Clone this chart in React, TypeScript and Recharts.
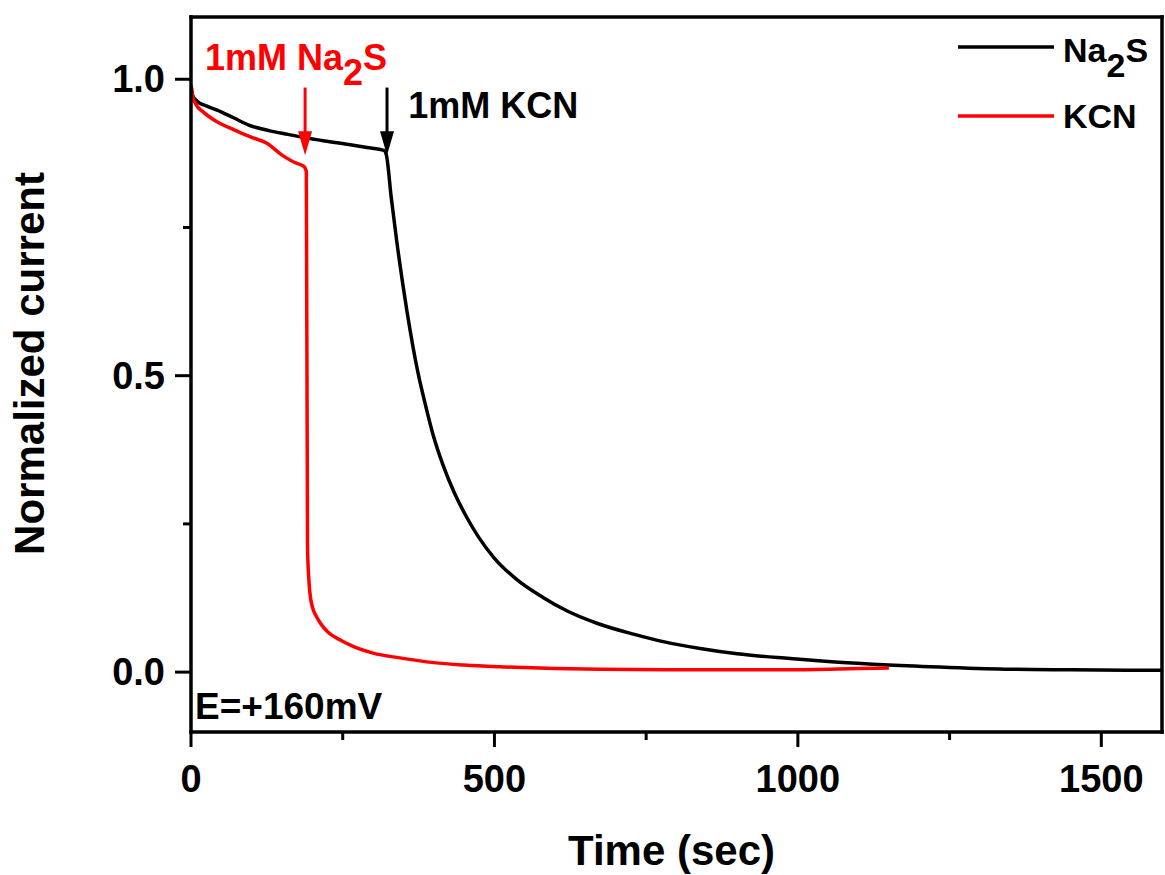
import React from "react"
import {
  LineChart,
  Line,
  XAxis,
  YAxis,
  Legend,
  ReferenceLine,
  ReferenceDot,
} from "recharts"

const FONT = '"Liberation Sans", Arial, Helvetica, sans-serif'

// Na2S trace (black)
const na2sTime = [
  0, 3, 10, 25, 43, 70, 97, 130, 160, 185, 220, 260, 290, 318, 322, 330, 339,
  356, 374, 386, 399, 415, 435, 455, 475, 500, 537, 580, 620, 670, 729, 780,
  839, 900, 987, 1050, 1150, 1250, 1350, 1450, 1600,
]
const na2sValue = [
  0.99, 0.972, 0.963, 0.955, 0.948, 0.935, 0.922, 0.913, 0.907, 0.902, 0.896,
  0.89, 0.885, 0.88, 0.872, 0.8, 0.727, 0.608, 0.505, 0.452, 0.4, 0.35, 0.3,
  0.26, 0.226, 0.192, 0.156, 0.126, 0.103, 0.082, 0.064, 0.051, 0.04, 0.031,
  0.023, 0.018, 0.012, 0.008, 0.005, 0.004, 0.003,
]

// KCN trace (red)
const kcnTime = [
  0, 2, 8, 20, 40, 70, 100, 125, 150, 170, 186, 190, 192, 194, 196, 200, 206,
  213, 225, 246, 270, 300, 344, 400, 450, 509, 600, 674, 800, 987, 1100, 1150,
]
const kcnValue = [
  0.99, 0.975, 0.958, 0.945, 0.93, 0.915, 0.902, 0.892, 0.872, 0.86, 0.853,
  0.845, 0.211, 0.16, 0.133, 0.11, 0.095, 0.083, 0.068, 0.054, 0.042, 0.032,
  0.024, 0.016, 0.012, 0.009, 0.006, 0.005, 0.004, 0.004, 0.006, 0.007,
]

const xTicks = [0, 250, 500, 750, 1000, 1250, 1500]
const yTicks = [0, 0.25, 0.5, 0.75, 1.0]
const X_DOMAIN = [0, 1600]
const Y_DOMAIN = [-0.101, 1.105]

const na2sData = na2sTime.map((t, i) => ({ t, v: na2sValue[i] }))
const kcnData = kcnTime.map((t, i) => ({ t, v: kcnValue[i] }))

function XTick({ x, y, payload }: any) {
  const major = payload.value % 500 === 0
  return (
    <g>
      <line x1={x} x2={x} y1={y} y2={y + (major ? 15 : 8)} stroke="#000" strokeWidth={3} />
      {major && (
        <text x={x} y={y + 60} textAnchor="middle" fontSize={38} fontWeight="bold" fontFamily={FONT} fill="#000">
          {payload.value}
        </text>
      )}
    </g>
  )
}

function YTick({ x, y, payload }: any) {
  const major = Math.round(payload.value * 4) % 2 === 0
  return (
    <g>
      <line x1={x - (major ? 16 : 8)} x2={x} y1={y} y2={y} stroke="#000" strokeWidth={3} />
      {major && (
        <text x={x - 26} y={y + 13} textAnchor="end" fontSize={38} fontWeight="bold" fontFamily={FONT} fill="#000">
          {payload.value.toFixed(1)}
        </text>
      )}
    </g>
  )
}

// plot frame side
const frameShape = (props: any) => (
  <line
    x1={props.x1}
    y1={props.y1}
    x2={props.x2}
    y2={props.y2}
    stroke="#000"
    strokeWidth={3.5}
    strokeLinecap="square"
  />
)

// arrow drawn from segment start down to tip
const arrowShape = (color: string) => (props: any) => {
  const { x1, y1, x2, y2 } = props
  return (
    <g>
      <line x1={x1} y1={y1} x2={x2} y2={y2 - 20} stroke={color} strokeWidth={3} />
      <polygon points={`${x2 - 7},${y2 - 24} ${x2 + 7},${y2 - 24} ${x2},${y2}`} fill={color} />
    </g>
  )
}

function LegendBox() {
  return (
    <svg width={215} height={120} style={{ overflow: "visible" }}>
      <line x1={8} x2={104} y1={27} y2={27} stroke="#000" strokeWidth={3.5} />
      <text x={113} y={42} fontSize={34} fontWeight="bold" fontFamily={FONT} fill="#000">
        Na<tspan dy={15}>2</tspan>
        <tspan dy={-15}>S</tspan>
      </text>
      <line x1={8} x2={104} y1={96} y2={96} stroke="#ff0000" strokeWidth={3.5} />
      <text x={113} y={108} fontSize={34} fontWeight="bold" fontFamily={FONT} fill="#000">
        KCN
      </text>
    </svg>
  )
}

export default function App() {
  return (
    <div style={{ position: "absolute", left: 0, top: 0, background: "#fff" }}>
      <LineChart
        width={1165}
        height={875}
        margin={{ top: 17, right: 3, bottom: 0, left: 0 }}
      >
        <XAxis
          dataKey="t"
          type="number"
          domain={X_DOMAIN}
          ticks={xTicks}
          height={143}
          tickSize={0}
          tickMargin={0}
          tick={<XTick />}
          axisLine={false}
          allowDataOverflow
          label={{
            content: ({ viewBox }: any) => (
              <text
                x={viewBox.x + viewBox.width / 2 - 5}
                y={viewBox.y + 133}
                textAnchor="middle"
                fontSize={42}
                fontWeight="bold"
                fontFamily={FONT}
                fill="#000"
              >
                Time (sec)
              </text>
            ),
          }}
        />
        <YAxis
          type="number"
          domain={Y_DOMAIN}
          ticks={yTicks}
          width={191}
          tickSize={0}
          tickMargin={0}
          tick={<YTick />}
          axisLine={false}
          allowDataOverflow
          label={{
            content: ({ viewBox }: any) => (
              <text
                transform={`translate(${viewBox.x + 44}, ${viewBox.y + viewBox.height / 2 - 11}) rotate(-90)`}
                textAnchor="middle"
                fontSize={42}
                fontWeight="bold"
                fontFamily={FONT}
                fill="#000"
              >
                Normalized current
              </text>
            ),
          }}
        />
        <Legend
          layout="vertical"
          align="center"
          verticalAlign="middle"
          wrapperStyle={{ left: 950, top: 20, width: 215, height: 120 }}
          content={() => <LegendBox />}
        />
        <Line
          data={na2sData}
          dataKey="v"
          name="Na2S"
          type="monotone"
          stroke="#000"
          strokeWidth={3.5}
          dot={false}
          isAnimationActive={false}
        />
        <Line
          data={kcnData}
          dataKey="v"
          name="KCN"
          type="monotone"
          stroke="#ff0000"
          strokeWidth={3.5}
          dot={false}
          isAnimationActive={false}
        />
        <ReferenceLine x={X_DOMAIN[0]} ifOverflow="visible" shape={frameShape} />
        <ReferenceLine x={X_DOMAIN[1]} ifOverflow="visible" shape={frameShape} />
        <ReferenceLine y={Y_DOMAIN[0]} ifOverflow="visible" shape={frameShape} />
        <ReferenceLine y={Y_DOMAIN[1]} ifOverflow="visible" shape={frameShape} />
        <ReferenceLine
          segment={[
            { x: 188, y: 0.986 },
            { x: 188, y: 0.872 },
          ]}
          shape={arrowShape("#ff0000")}
        />
        <ReferenceLine
          segment={[
            { x: 323, y: 0.986 },
            { x: 323, y: 0.872 },
          ]}
          shape={arrowShape("#000")}
        />
        <ReferenceDot
          x={23}
          y={1.015}
          r={0}
          shape={(p: any) => (
            <text x={p.cx} y={p.cy} fontSize={36} fontWeight="bold" fontFamily={FONT} fill="#ff0000">
              1mM Na<tspan dy={15}>2</tspan>
              <tspan dy={-15}>S</tspan>
            </text>
          )}
        />
        <ReferenceDot
          x={358}
          y={0.934}
          r={0}
          shape={(p: any) => (
            <text x={p.cx} y={p.cy} fontSize={36} fontWeight="bold" fontFamily={FONT} fill="#000">
              1mM KCN
            </text>
          )}
        />
        <ReferenceDot
          x={6.6}
          y={-0.079}
          r={0}
          shape={(p: any) => (
            <text x={p.cx} y={p.cy} fontSize={37} fontWeight="bold" fontFamily={FONT} fill="#000">
              E=+160mV
            </text>
          )}
        />
      </LineChart>
    </div>
  )
}
